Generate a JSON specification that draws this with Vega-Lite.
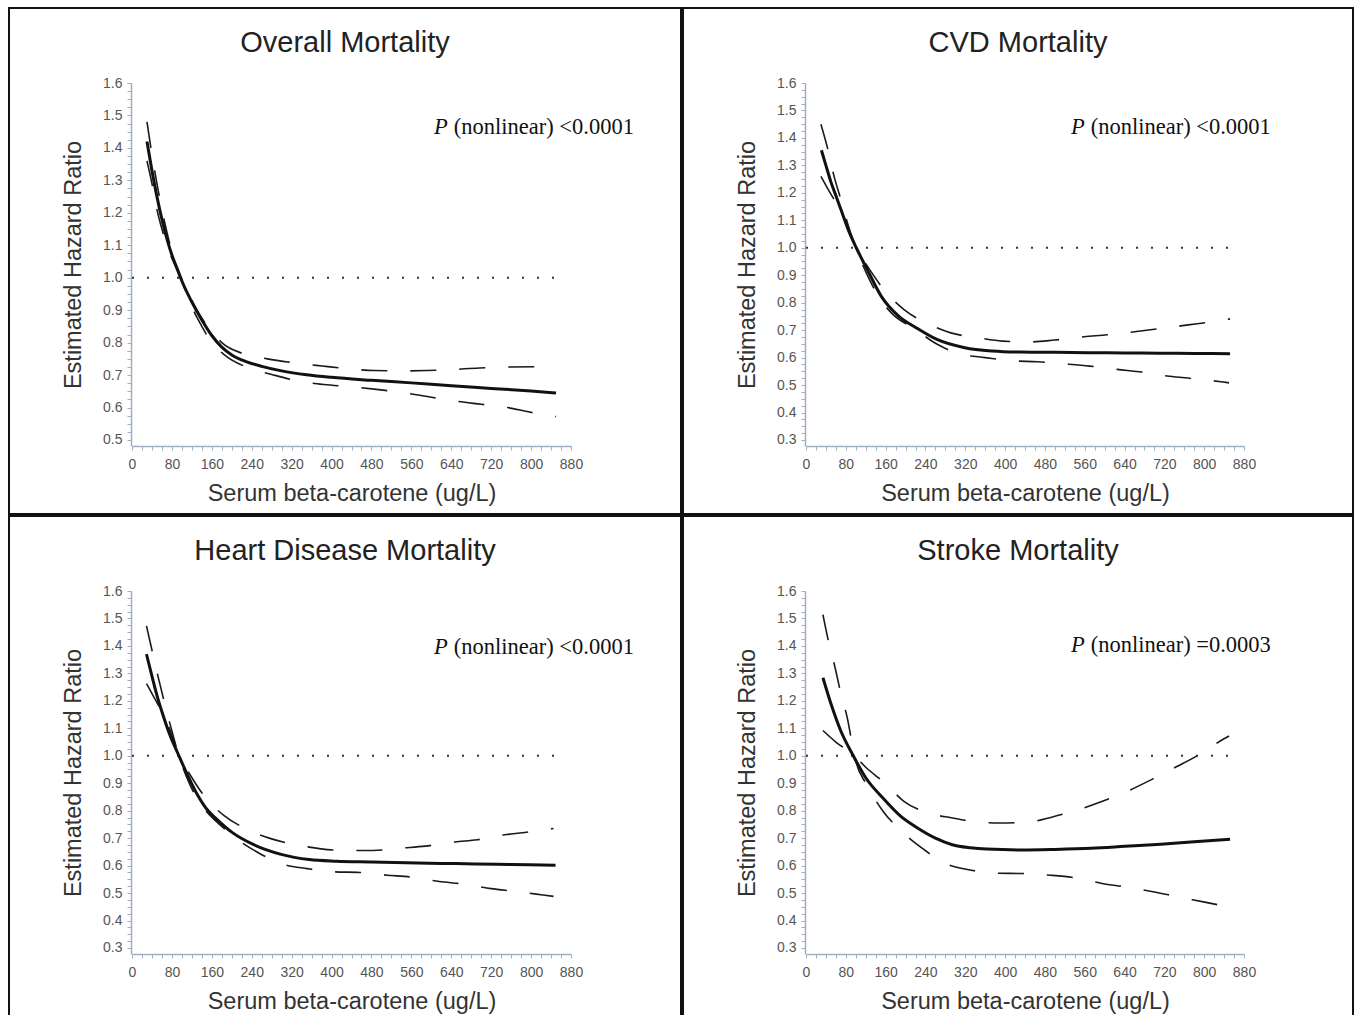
{
  "$schema": "https://vega.github.io/schema/vega-lite/v6.json",
  "padding": {"left": 8, "top": 7, "right": 0, "bottom": 0},
  "background": "white",
  "config": {
    "view": {"stroke": "#111111", "strokeWidth": 2},
    "concat": {"spacing": 0},
    "axis": {"grid": false, "domainColor": "#9fb0c3", "domainWidth": 1.5, "tickColor": "#9fb0c3", "tickSize": 4, "labelColor": "#555555", "labelFont": "Liberation Sans", "labelFontSize": 14, "titleFont": "Liberation Sans", "titleFontSize": 23.5, "titleFontWeight": "normal", "titleColor": "#333333", "labelOverlap": false, "labelFlush": false},
    "axisX": {"labelPadding": 7, "titlePadding": 10},
    "axisY": {"labelPadding": 5, "titlePadding": 17},
    "title": {"font": "Liberation Sans", "fontSize": 29, "fontWeight": "normal", "color": "#222222", "anchor": "middle", "frame": "group", "baseline": "alphabetic", "offset": -50}
  },
  "datasets": {
    "curves": [
      {"panel":"overall","series":"main","x":30,"hr":1.42},{"panel":"overall","series":"main","x":40,"hr":1.33},{"panel":"overall","series":"main","x":50,"hr":1.25},{"panel":"overall","series":"main","x":60,"hr":1.18},{"panel":"overall","series":"main","x":70,"hr":1.12},{"panel":"overall","series":"main","x":80,"hr":1.07},{"panel":"overall","series":"main","x":90,"hr":1.03},{"panel":"overall","series":"main","x":100,"hr":0.99},{"panel":"overall","series":"main","x":120,"hr":0.925},{"panel":"overall","series":"main","x":140,"hr":0.87},{"panel":"overall","series":"main","x":160,"hr":0.822},{"panel":"overall","series":"main","x":180,"hr":0.786},{"panel":"overall","series":"main","x":200,"hr":0.762},{"panel":"overall","series":"main","x":230,"hr":0.741},{"panel":"overall","series":"main","x":260,"hr":0.727},{"panel":"overall","series":"main","x":300,"hr":0.713},{"panel":"overall","series":"main","x":350,"hr":0.701},{"panel":"overall","series":"main","x":400,"hr":0.693},{"panel":"overall","series":"main","x":480,"hr":0.684},{"panel":"overall","series":"main","x":560,"hr":0.676},{"panel":"overall","series":"main","x":640,"hr":0.667},{"panel":"overall","series":"main","x":720,"hr":0.659},{"panel":"overall","series":"main","x":800,"hr":0.651},{"panel":"overall","series":"main","x":850,"hr":0.645},
      {"panel":"overall","series":"ciA","x":30,"hr":1.48},{"panel":"overall","series":"ciA","x":40,"hr":1.38},{"panel":"overall","series":"ciA","x":50,"hr":1.29},{"panel":"overall","series":"ciA","x":60,"hr":1.21},{"panel":"overall","series":"ciA","x":70,"hr":1.14},{"panel":"overall","series":"ciA","x":80,"hr":1.08},{"panel":"overall","series":"ciA","x":90,"hr":1.03},{"panel":"overall","series":"ciA","x":100,"hr":0.99},{"panel":"overall","series":"ciA","x":120,"hr":0.91},{"panel":"overall","series":"ciA","x":140,"hr":0.85},{"panel":"overall","series":"ciA","x":160,"hr":0.8},{"panel":"overall","series":"ciA","x":184,"hr":0.764},{"panel":"overall","series":"ciA","x":232,"hr":0.723},{"panel":"overall","series":"ciA","x":280,"hr":0.702},{"panel":"overall","series":"ciA","x":333,"hr":0.682},{"panel":"overall","series":"ciA","x":385,"hr":0.671},{"panel":"overall","series":"ciA","x":438,"hr":0.664},{"panel":"overall","series":"ciA","x":490,"hr":0.656},{"panel":"overall","series":"ciA","x":543,"hr":0.646},{"panel":"overall","series":"ciA","x":595,"hr":0.633},{"panel":"overall","series":"ciA","x":648,"hr":0.62},{"panel":"overall","series":"ciA","x":700,"hr":0.61},{"panel":"overall","series":"ciA","x":753,"hr":0.6},{"panel":"overall","series":"ciA","x":797,"hr":0.586},{"panel":"overall","series":"ciA","x":850,"hr":0.572},
      {"panel":"overall","series":"ciB","x":30,"hr":1.36},{"panel":"overall","series":"ciB","x":40,"hr":1.29},{"panel":"overall","series":"ciB","x":50,"hr":1.21},{"panel":"overall","series":"ciB","x":60,"hr":1.15},{"panel":"overall","series":"ciB","x":70,"hr":1.1},{"panel":"overall","series":"ciB","x":80,"hr":1.06},{"panel":"overall","series":"ciB","x":90,"hr":1.025},{"panel":"overall","series":"ciB","x":100,"hr":0.995},{"panel":"overall","series":"ciB","x":120,"hr":0.93},{"panel":"overall","series":"ciB","x":140,"hr":0.875},{"panel":"overall","series":"ciB","x":160,"hr":0.835},{"panel":"overall","series":"ciB","x":180,"hr":0.8},{"panel":"overall","series":"ciB","x":223,"hr":0.766},{"panel":"overall","series":"ciB","x":271,"hr":0.75},{"panel":"overall","series":"ciB","x":324,"hr":0.738},{"panel":"overall","series":"ciB","x":381,"hr":0.728},{"panel":"overall","series":"ciB","x":430,"hr":0.72},{"panel":"overall","series":"ciB","x":486,"hr":0.714},{"panel":"overall","series":"ciB","x":540,"hr":0.713},{"panel":"overall","series":"ciB","x":591,"hr":0.714},{"panel":"overall","series":"ciB","x":640,"hr":0.717},{"panel":"overall","series":"ciB","x":696,"hr":0.722},{"panel":"overall","series":"ciB","x":760,"hr":0.725},{"panel":"overall","series":"ciB","x":850,"hr":0.726},

      {"panel":"cvd","series":"main","x":31,"hr":1.355},{"panel":"cvd","series":"main","x":40,"hr":1.3},{"panel":"cvd","series":"main","x":50,"hr":1.24},{"panel":"cvd","series":"main","x":60,"hr":1.19},{"panel":"cvd","series":"main","x":70,"hr":1.14},{"panel":"cvd","series":"main","x":85,"hr":1.065},{"panel":"cvd","series":"main","x":101,"hr":1.0},{"panel":"cvd","series":"main","x":123,"hr":0.921},{"panel":"cvd","series":"main","x":151,"hr":0.824},{"panel":"cvd","series":"main","x":186,"hr":0.751},{"panel":"cvd","series":"main","x":221,"hr":0.709},{"panel":"cvd","series":"main","x":263,"hr":0.666},{"panel":"cvd","series":"main","x":319,"hr":0.636},{"panel":"cvd","series":"main","x":374,"hr":0.624},{"panel":"cvd","series":"main","x":430,"hr":0.62},{"panel":"cvd","series":"main","x":500,"hr":0.619},{"panel":"cvd","series":"main","x":570,"hr":0.618},{"panel":"cvd","series":"main","x":640,"hr":0.617},{"panel":"cvd","series":"main","x":709,"hr":0.616},{"panel":"cvd","series":"main","x":780,"hr":0.615},{"panel":"cvd","series":"main","x":852,"hr":0.614},
      {"panel":"cvd","series":"ciA","x":30,"hr":1.45},{"panel":"cvd","series":"ciA","x":45,"hr":1.35},{"panel":"cvd","series":"ciA","x":55,"hr":1.27},{"panel":"cvd","series":"ciA","x":71,"hr":1.17},{"panel":"cvd","series":"ciA","x":85,"hr":1.08},{"panel":"cvd","series":"ciA","x":100,"hr":1.0},{"panel":"cvd","series":"ciA","x":130,"hr":0.875},{"panel":"cvd","series":"ciA","x":150,"hr":0.81},{"panel":"cvd","series":"ciA","x":172,"hr":0.762},{"panel":"cvd","series":"ciA","x":221,"hr":0.701},{"panel":"cvd","series":"ciA","x":260,"hr":0.652},{"panel":"cvd","series":"ciA","x":312,"hr":0.612},{"panel":"cvd","series":"ciA","x":360,"hr":0.6},{"panel":"cvd","series":"ciA","x":416,"hr":0.588},{"panel":"cvd","series":"ciA","x":465,"hr":0.585},{"panel":"cvd","series":"ciA","x":521,"hr":0.577},{"panel":"cvd","series":"ciA","x":570,"hr":0.569},{"panel":"cvd","series":"ciA","x":625,"hr":0.557},{"panel":"cvd","series":"ciA","x":676,"hr":0.547},{"panel":"cvd","series":"ciA","x":730,"hr":0.532},{"panel":"cvd","series":"ciA","x":779,"hr":0.523},{"panel":"cvd","series":"ciA","x":834,"hr":0.512},{"panel":"cvd","series":"ciA","x":850,"hr":0.508},
      {"panel":"cvd","series":"ciB","x":30,"hr":1.26},{"panel":"cvd","series":"ciB","x":50,"hr":1.195},{"panel":"cvd","series":"ciB","x":71,"hr":1.13},{"panel":"cvd","series":"ciB","x":85,"hr":1.065},{"panel":"cvd","series":"ciB","x":100,"hr":1.005},{"panel":"cvd","series":"ciB","x":130,"hr":0.915},{"panel":"cvd","series":"ciB","x":160,"hr":0.84},{"panel":"cvd","series":"ciB","x":197,"hr":0.775},{"panel":"cvd","series":"ciB","x":249,"hr":0.72},{"panel":"cvd","series":"ciB","x":291,"hr":0.69},{"panel":"cvd","series":"ciB","x":347,"hr":0.672},{"panel":"cvd","series":"ciB","x":395,"hr":0.66},{"panel":"cvd","series":"ciB","x":451,"hr":0.657},{"panel":"cvd","series":"ciB","x":500,"hr":0.664},{"panel":"cvd","series":"ciB","x":559,"hr":0.676},{"panel":"cvd","series":"ciB","x":605,"hr":0.683},{"panel":"cvd","series":"ciB","x":664,"hr":0.695},{"panel":"cvd","series":"ciB","x":709,"hr":0.705},{"panel":"cvd","series":"ciB","x":768,"hr":0.719},{"panel":"cvd","series":"ciB","x":814,"hr":0.73},{"panel":"cvd","series":"ciB","x":852,"hr":0.741},

      {"panel":"heart","series":"main","x":29,"hr":1.37},{"panel":"heart","series":"main","x":40,"hr":1.29},{"panel":"heart","series":"main","x":50,"hr":1.22},{"panel":"heart","series":"main","x":60,"hr":1.16},{"panel":"heart","series":"main","x":75,"hr":1.08},{"panel":"heart","series":"main","x":94,"hr":1.0},{"panel":"heart","series":"main","x":110,"hr":0.935},{"panel":"heart","series":"main","x":132,"hr":0.855},{"panel":"heart","series":"main","x":150,"hr":0.805},{"panel":"heart","series":"main","x":167,"hr":0.774},{"panel":"heart","series":"main","x":202,"hr":0.719},{"panel":"heart","series":"main","x":243,"hr":0.677},{"panel":"heart","series":"main","x":299,"hr":0.641},{"panel":"heart","series":"main","x":355,"hr":0.622},{"panel":"heart","series":"main","x":410,"hr":0.616},{"panel":"heart","series":"main","x":480,"hr":0.613},{"panel":"heart","series":"main","x":550,"hr":0.61},{"panel":"heart","series":"main","x":620,"hr":0.608},{"panel":"heart","series":"main","x":689,"hr":0.606},{"panel":"heart","series":"main","x":760,"hr":0.604},{"panel":"heart","series":"main","x":849,"hr":0.601},
      {"panel":"heart","series":"ciA","x":29,"hr":1.473},{"panel":"heart","series":"ciA","x":42,"hr":1.369},{"panel":"heart","series":"ciA","x":52,"hr":1.29},{"panel":"heart","series":"ciA","x":66,"hr":1.187},{"panel":"heart","series":"ciA","x":80,"hr":1.09},{"panel":"heart","series":"ciA","x":94,"hr":1.0},{"panel":"heart","series":"ciA","x":110,"hr":0.92},{"panel":"heart","series":"ciA","x":130,"hr":0.845},{"panel":"heart","series":"ciA","x":150,"hr":0.795},{"panel":"heart","series":"ciA","x":170,"hr":0.759},{"panel":"heart","series":"ciA","x":216,"hr":0.689},{"panel":"heart","series":"ciA","x":254,"hr":0.646},{"panel":"heart","series":"ciA","x":306,"hr":0.603},{"panel":"heart","series":"ciA","x":351,"hr":0.589},{"panel":"heart","series":"ciA","x":407,"hr":0.577},{"panel":"heart","series":"ciA","x":456,"hr":0.575},{"panel":"heart","series":"ciA","x":511,"hr":0.565},{"panel":"heart","series":"ciA","x":560,"hr":0.558},{"panel":"heart","series":"ciA","x":616,"hr":0.542},{"panel":"heart","series":"ciA","x":664,"hr":0.533},{"panel":"heart","series":"ciA","x":720,"hr":0.516},{"panel":"heart","series":"ciA","x":769,"hr":0.506},{"panel":"heart","series":"ciA","x":824,"hr":0.493},{"panel":"heart","series":"ciA","x":845,"hr":0.488},
      {"panel":"heart","series":"ciB","x":29,"hr":1.263},{"panel":"heart","series":"ciB","x":45,"hr":1.21},{"panel":"heart","series":"ciB","x":63,"hr":1.15},{"panel":"heart","series":"ciB","x":80,"hr":1.075},{"panel":"heart","series":"ciB","x":94,"hr":1.0},{"panel":"heart","series":"ciB","x":115,"hr":0.935},{"panel":"heart","series":"ciB","x":140,"hr":0.865},{"panel":"heart","series":"ciB","x":160,"hr":0.822},{"panel":"heart","series":"ciB","x":184,"hr":0.783},{"panel":"heart","series":"ciB","x":233,"hr":0.73},{"panel":"heart","series":"ciB","x":275,"hr":0.7},{"panel":"heart","series":"ciB","x":334,"hr":0.674},{"panel":"heart","series":"ciB","x":379,"hr":0.661},{"panel":"heart","series":"ciB","x":435,"hr":0.655},{"panel":"heart","series":"ciB","x":483,"hr":0.655},{"panel":"heart","series":"ciB","x":543,"hr":0.664},{"panel":"heart","series":"ciB","x":588,"hr":0.671},{"panel":"heart","series":"ciB","x":647,"hr":0.686},{"panel":"heart","series":"ciB","x":692,"hr":0.694},{"panel":"heart","series":"ciB","x":751,"hr":0.713},{"panel":"heart","series":"ciB","x":797,"hr":0.723},{"panel":"heart","series":"ciB","x":845,"hr":0.735},

      {"panel":"stroke","series":"main","x":34,"hr":1.284},{"panel":"stroke","series":"main","x":50,"hr":1.19},{"panel":"stroke","series":"main","x":70,"hr":1.09},{"panel":"stroke","series":"main","x":95,"hr":1.0},{"panel":"stroke","series":"main","x":120,"hr":0.92},{"panel":"stroke","series":"main","x":154,"hr":0.847},{"panel":"stroke","series":"main","x":190,"hr":0.78},{"panel":"stroke","series":"main","x":224,"hr":0.737},{"panel":"stroke","series":"main","x":260,"hr":0.7},{"panel":"stroke","series":"main","x":294,"hr":0.676},{"panel":"stroke","series":"main","x":330,"hr":0.665},{"panel":"stroke","series":"main","x":363,"hr":0.66},{"panel":"stroke","series":"main","x":434,"hr":0.657},{"panel":"stroke","series":"main","x":500,"hr":0.659},{"panel":"stroke","series":"main","x":573,"hr":0.663},{"panel":"stroke","series":"main","x":640,"hr":0.67},{"panel":"stroke","series":"main","x":713,"hr":0.678},{"panel":"stroke","series":"main","x":780,"hr":0.687},{"panel":"stroke","series":"main","x":852,"hr":0.696},
      {"panel":"stroke","series":"ciA","x":34,"hr":1.514},{"panel":"stroke","series":"ciA","x":46,"hr":1.41},{"panel":"stroke","series":"ciA","x":58,"hr":1.324},{"panel":"stroke","series":"ciA","x":70,"hr":1.227},{"panel":"stroke","series":"ciA","x":84,"hr":1.129},{"panel":"stroke","series":"ciA","x":92,"hr":1.05},{"panel":"stroke","series":"ciA","x":100,"hr":0.98},{"panel":"stroke","series":"ciA","x":120,"hr":0.9},{"panel":"stroke","series":"ciA","x":154,"hr":0.8},{"panel":"stroke","series":"ciA","x":196,"hr":0.718},{"panel":"stroke","series":"ciA","x":238,"hr":0.657},{"panel":"stroke","series":"ciA","x":280,"hr":0.608},{"panel":"stroke","series":"ciA","x":330,"hr":0.584},{"panel":"stroke","series":"ciA","x":386,"hr":0.572},{"panel":"stroke","series":"ciA","x":434,"hr":0.571},{"panel":"stroke","series":"ciA","x":490,"hr":0.565},{"panel":"stroke","series":"ciA","x":539,"hr":0.556},{"panel":"stroke","series":"ciA","x":595,"hr":0.535},{"panel":"stroke","series":"ciA","x":644,"hr":0.522},{"panel":"stroke","series":"ciA","x":700,"hr":0.504},{"panel":"stroke","series":"ciA","x":748,"hr":0.486},{"panel":"stroke","series":"ciA","x":801,"hr":0.467},{"panel":"stroke","series":"ciA","x":850,"hr":0.449},
      {"panel":"stroke","series":"ciB","x":34,"hr":1.092},{"panel":"stroke","series":"ciB","x":60,"hr":1.05},{"panel":"stroke","series":"ciB","x":84,"hr":1.018},{"panel":"stroke","series":"ciB","x":97,"hr":1.0},{"panel":"stroke","series":"ciB","x":119,"hr":0.96},{"panel":"stroke","series":"ciB","x":161,"hr":0.896},{"panel":"stroke","series":"ciB","x":196,"hr":0.835},{"panel":"stroke","series":"ciB","x":245,"hr":0.792},{"panel":"stroke","series":"ciB","x":292,"hr":0.774},{"panel":"stroke","series":"ciB","x":348,"hr":0.758},{"panel":"stroke","series":"ciB","x":390,"hr":0.755},{"panel":"stroke","series":"ciB","x":446,"hr":0.758},{"panel":"stroke","series":"ciB","x":495,"hr":0.777},{"panel":"stroke","series":"ciB","x":548,"hr":0.804},{"panel":"stroke","series":"ciB","x":597,"hr":0.835},{"panel":"stroke","series":"ciB","x":646,"hr":0.871},{"panel":"stroke","series":"ciB","x":695,"hr":0.914},{"panel":"stroke","series":"ciB","x":744,"hr":0.96},{"panel":"stroke","series":"ciB","x":786,"hr":1.0},{"panel":"stroke","series":"ciB","x":839,"hr":1.061},{"panel":"stroke","series":"ciB","x":850,"hr":1.072}
    ],
    "notes": [
      {"panel":"overall","x":645,"hr":1.464,"label":"(nonlinear) <0.0001"},
      {"panel":"cvd","x":572,"hr":1.44,"label":"(nonlinear) <0.0001"},
      {"panel":"heart","x":645,"hr":1.396,"label":"(nonlinear) <0.0001"},
      {"panel":"stroke","x":572,"hr":1.403,"label":"(nonlinear) =0.0003"}
    ],
    "ref": [{"from": 0, "to": 870, "hr": 1}]
  },
  "vconcat": [
    {"hconcat": [
      {"width": 672, "height": 506, "title": "Overall Mortality",
       "encoding": {
         "x": {"field": "x", "type": "quantitative", "scale": {"domain": [0, 880], "range": [123, 562], "nice": false, "zero": false}, "axis": {"title": "Serum beta-carotene (ug/L)", "offset": -68, "values": [0,20,40,60,80,100,120,140,160,180,200,220,240,260,280,300,320,340,360,380,400,420,440,460,480,500,520,540,560,580,600,620,640,660,680,700,720,740,760,780,800,820,840,860,880], "labelExpr": "datum.value % 80 === 0 ? datum.label : ''"}},
         "y": {"field": "hr", "type": "quantitative", "scale": {"domain": [0.4815, 1.6], "range": [438, 75], "nice": false, "zero": false}, "axis": {"title": "Estimated Hazard Ratio", "offset": -122, "values": [0.5,0.525,0.55,0.575,0.6,0.625,0.65,0.675,0.7,0.725,0.75,0.775,0.8,0.825,0.85,0.875,0.9,0.925,0.95,0.975,1,1.025,1.05,1.075,1.1,1.125,1.15,1.175,1.2,1.225,1.25,1.275,1.3,1.325,1.35,1.375,1.4,1.425,1.45,1.475,1.5,1.525,1.55,1.575,1.6], "labelExpr": "abs(datum.value*10 - round(datum.value*10)) < 0.01 ? format(datum.value, '.1f') : ''"}}
       },
       "layer": [
         {"data": {"name": "ref"}, "mark": {"type": "rule", "strokeDash": [2, 13], "strokeWidth": 2, "color": "#333333"}, "encoding": {"x": {"field": "from", "type": "quantitative"}, "x2": {"field": "to"}, "y": {"field": "hr", "type": "quantitative"}}},
         {"data": {"name": "curves"}, "transform": [{"filter": "datum.panel === 'overall' && datum.series !== 'main'"}], "mark": {"type": "line", "interpolate": "monotone", "strokeDash": [26, 23], "strokeWidth": 1.6, "color": "#1a1a1a"}, "encoding": {"detail": {"field": "series"}}},
         {"data": {"name": "curves"}, "transform": [{"filter": "datum.panel === 'overall' && datum.series === 'main'"}], "mark": {"type": "line", "interpolate": "monotone", "strokeWidth": 3, "color": "#111111"}},
         {"data": {"name": "notes"}, "transform": [{"filter": "datum.panel === 'overall'"}], "mark": {"type": "text", "align": "left", "baseline": "middle", "font": "Liberation Serif", "fontSize": 22.5, "color": "#111111"}, "encoding": {"text": {"field": "label"}}},
         {"data": {"name": "notes"}, "transform": [{"filter": "datum.panel === 'overall'"}], "mark": {"type": "text", "align": "right", "baseline": "middle", "dx": -6, "font": "Liberation Serif", "fontStyle": "italic", "fontSize": 22.5, "color": "#111111", "text": "P"}}
       ]},
      {"width": 670, "height": 506, "title": "CVD Mortality",
       "encoding": {
         "x": {"field": "x", "type": "quantitative", "scale": {"domain": [0, 880], "range": [123, 561], "nice": false, "zero": false}, "axis": {"title": "Serum beta-carotene (ug/L)", "offset": -68, "values": [0,20,40,60,80,100,120,140,160,180,200,220,240,260,280,300,320,340,360,380,400,420,440,460,480,500,520,540,560,580,600,620,640,660,680,700,720,740,760,780,800,820,840,860,880], "labelExpr": "datum.value % 80 === 0 ? datum.label : ''"}},
         "y": {"field": "hr", "type": "quantitative", "scale": {"domain": [0.278, 1.6], "range": [438, 75], "nice": false, "zero": false}, "axis": {"title": "Estimated Hazard Ratio", "offset": -122, "values": [0.3,0.325,0.35,0.375,0.4,0.425,0.45,0.475,0.5,0.525,0.55,0.575,0.6,0.625,0.65,0.675,0.7,0.725,0.75,0.775,0.8,0.825,0.85,0.875,0.9,0.925,0.95,0.975,1,1.025,1.05,1.075,1.1,1.125,1.15,1.175,1.2,1.225,1.25,1.275,1.3,1.325,1.35,1.375,1.4,1.425,1.45,1.475,1.5,1.525,1.55,1.575,1.6], "labelExpr": "abs(datum.value*10 - round(datum.value*10)) < 0.01 ? format(datum.value, '.1f') : ''"}}
       },
       "layer": [
         {"data": {"name": "ref"}, "mark": {"type": "rule", "strokeDash": [2, 13], "strokeWidth": 2, "color": "#333333"}, "encoding": {"x": {"field": "from", "type": "quantitative"}, "x2": {"field": "to"}, "y": {"field": "hr", "type": "quantitative"}}},
         {"data": {"name": "curves"}, "transform": [{"filter": "datum.panel === 'cvd' && datum.series !== 'main'"}], "mark": {"type": "line", "interpolate": "monotone", "strokeDash": [26, 23], "strokeWidth": 1.6, "color": "#1a1a1a"}, "encoding": {"detail": {"field": "series"}}},
         {"data": {"name": "curves"}, "transform": [{"filter": "datum.panel === 'cvd' && datum.series === 'main'"}], "mark": {"type": "line", "interpolate": "monotone", "strokeWidth": 3, "color": "#111111"}},
         {"data": {"name": "notes"}, "transform": [{"filter": "datum.panel === 'cvd'"}], "mark": {"type": "text", "align": "left", "baseline": "middle", "font": "Liberation Serif", "fontSize": 22.5, "color": "#111111"}, "encoding": {"text": {"field": "label"}}},
         {"data": {"name": "notes"}, "transform": [{"filter": "datum.panel === 'cvd'"}], "mark": {"type": "text", "align": "right", "baseline": "middle", "dx": -6, "font": "Liberation Serif", "fontStyle": "italic", "fontSize": 22.5, "color": "#111111", "text": "P"}}
       ]}
    ]},
    {"hconcat": [
      {"width": 672, "height": 506, "title": "Heart Disease Mortality",
       "encoding": {
         "x": {"field": "x", "type": "quantitative", "scale": {"domain": [0, 880], "range": [123, 562], "nice": false, "zero": false}, "axis": {"title": "Serum beta-carotene (ug/L)", "offset": -68, "values": [0,20,40,60,80,100,120,140,160,180,200,220,240,260,280,300,320,340,360,380,400,420,440,460,480,500,520,540,560,580,600,620,640,660,680,700,720,740,760,780,800,820,840,860,880], "labelExpr": "datum.value % 80 === 0 ? datum.label : ''"}},
         "y": {"field": "hr", "type": "quantitative", "scale": {"domain": [0.278, 1.6], "range": [438, 75], "nice": false, "zero": false}, "axis": {"title": "Estimated Hazard Ratio", "offset": -122, "values": [0.3,0.325,0.35,0.375,0.4,0.425,0.45,0.475,0.5,0.525,0.55,0.575,0.6,0.625,0.65,0.675,0.7,0.725,0.75,0.775,0.8,0.825,0.85,0.875,0.9,0.925,0.95,0.975,1,1.025,1.05,1.075,1.1,1.125,1.15,1.175,1.2,1.225,1.25,1.275,1.3,1.325,1.35,1.375,1.4,1.425,1.45,1.475,1.5,1.525,1.55,1.575,1.6], "labelExpr": "abs(datum.value*10 - round(datum.value*10)) < 0.01 ? format(datum.value, '.1f') : ''"}}
       },
       "layer": [
         {"data": {"name": "ref"}, "mark": {"type": "rule", "strokeDash": [2, 13], "strokeWidth": 2, "color": "#333333"}, "encoding": {"x": {"field": "from", "type": "quantitative"}, "x2": {"field": "to"}, "y": {"field": "hr", "type": "quantitative"}}},
         {"data": {"name": "curves"}, "transform": [{"filter": "datum.panel === 'heart' && datum.series !== 'main'"}], "mark": {"type": "line", "interpolate": "monotone", "strokeDash": [26, 23], "strokeWidth": 1.6, "color": "#1a1a1a"}, "encoding": {"detail": {"field": "series"}}},
         {"data": {"name": "curves"}, "transform": [{"filter": "datum.panel === 'heart' && datum.series === 'main'"}], "mark": {"type": "line", "interpolate": "monotone", "strokeWidth": 3, "color": "#111111"}},
         {"data": {"name": "notes"}, "transform": [{"filter": "datum.panel === 'heart'"}], "mark": {"type": "text", "align": "left", "baseline": "middle", "font": "Liberation Serif", "fontSize": 22.5, "color": "#111111"}, "encoding": {"text": {"field": "label"}}},
         {"data": {"name": "notes"}, "transform": [{"filter": "datum.panel === 'heart'"}], "mark": {"type": "text", "align": "right", "baseline": "middle", "dx": -6, "font": "Liberation Serif", "fontStyle": "italic", "fontSize": 22.5, "color": "#111111", "text": "P"}}
       ]},
      {"width": 670, "height": 506, "title": "Stroke Mortality",
       "encoding": {
         "x": {"field": "x", "type": "quantitative", "scale": {"domain": [0, 880], "range": [123, 561], "nice": false, "zero": false}, "axis": {"title": "Serum beta-carotene (ug/L)", "offset": -68, "values": [0,20,40,60,80,100,120,140,160,180,200,220,240,260,280,300,320,340,360,380,400,420,440,460,480,500,520,540,560,580,600,620,640,660,680,700,720,740,760,780,800,820,840,860,880], "labelExpr": "datum.value % 80 === 0 ? datum.label : ''"}},
         "y": {"field": "hr", "type": "quantitative", "scale": {"domain": [0.278, 1.6], "range": [438, 75], "nice": false, "zero": false}, "axis": {"title": "Estimated Hazard Ratio", "offset": -122, "values": [0.3,0.325,0.35,0.375,0.4,0.425,0.45,0.475,0.5,0.525,0.55,0.575,0.6,0.625,0.65,0.675,0.7,0.725,0.75,0.775,0.8,0.825,0.85,0.875,0.9,0.925,0.95,0.975,1,1.025,1.05,1.075,1.1,1.125,1.15,1.175,1.2,1.225,1.25,1.275,1.3,1.325,1.35,1.375,1.4,1.425,1.45,1.475,1.5,1.525,1.55,1.575,1.6], "labelExpr": "abs(datum.value*10 - round(datum.value*10)) < 0.01 ? format(datum.value, '.1f') : ''"}}
       },
       "layer": [
         {"data": {"name": "ref"}, "mark": {"type": "rule", "strokeDash": [2, 13], "strokeWidth": 2, "color": "#333333"}, "encoding": {"x": {"field": "from", "type": "quantitative"}, "x2": {"field": "to"}, "y": {"field": "hr", "type": "quantitative"}}},
         {"data": {"name": "curves"}, "transform": [{"filter": "datum.panel === 'stroke' && datum.series !== 'main'"}], "mark": {"type": "line", "interpolate": "monotone", "strokeDash": [26, 23], "strokeWidth": 1.6, "color": "#1a1a1a"}, "encoding": {"detail": {"field": "series"}}},
         {"data": {"name": "curves"}, "transform": [{"filter": "datum.panel === 'stroke' && datum.series === 'main'"}], "mark": {"type": "line", "interpolate": "monotone", "strokeWidth": 3, "color": "#111111"}},
         {"data": {"name": "notes"}, "transform": [{"filter": "datum.panel === 'stroke'"}], "mark": {"type": "text", "align": "left", "baseline": "middle", "font": "Liberation Serif", "fontSize": 22.5, "color": "#111111"}, "encoding": {"text": {"field": "label"}}},
         {"data": {"name": "notes"}, "transform": [{"filter": "datum.panel === 'stroke'"}], "mark": {"type": "text", "align": "right", "baseline": "middle", "dx": -6, "font": "Liberation Serif", "fontStyle": "italic", "fontSize": 22.5, "color": "#111111", "text": "P"}}
       ]}
    ]}
  ]
}
